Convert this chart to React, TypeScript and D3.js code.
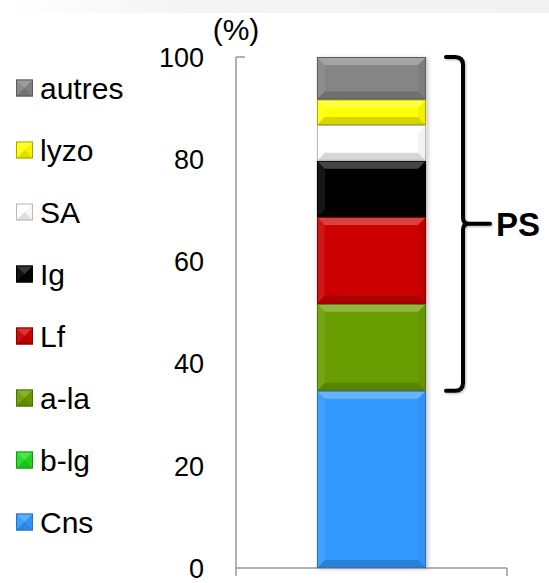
import React from "react";
import * as d3 from "d3";

const categories = ["Cns", "b-lg", "a-la", "Lf", "Ig", "SA", "lyzo", "autres"];
const values = [34.7, 0, 17, 17, 11, 7, 5, 8.3];
const colors = ["#3399ff", "#22dd22", "#6b9e00", "#cc0000", "#050505", "#ffffff", "#ffff00", "#858585"];
const outlines = ["#2a70c0", "#119911", "#4d7200", "#8a0000", "#000000", "#b8b8b8", "#a8a800", "#5a5a5a"];
const yTicks = [0, 20, 40, 60, 80, 100];
const barLabel = ["lait"];
const bracketLabel = "PS";
const bracketRange = [34.7, 100];

const W = 549;
const H = 583;
const FONT = "'Liberation Sans', Arial, sans-serif";

function Bevel({ x, y, w, h, fill, stroke, b, k = 1 }: any) {
  const bb = Math.min(b, h / 2, w / 2);
  const pts = (a: number[][]) => a.map((p) => p.join(",")).join(" ");
  return (
    <g>
      <rect x={x} y={y} width={w} height={h} fill={fill} />
      <polygon points={pts([[x, y], [x + w, y], [x + w - bb, y + bb], [x + bb, y + bb]])} fill="#ffffff" opacity={0.26 * k} />
      <polygon points={pts([[x, y + h], [x + w, y + h], [x + w - bb, y + h - bb], [x + bb, y + h - bb]])} fill="#000000" opacity={0.16 * k} />
      <polygon points={pts([[x, y], [x + bb, y + bb], [x + bb, y + h - bb], [x, y + h]])} fill="#ffffff" opacity={0.07 * k} />
      <polygon points={pts([[x + w, y], [x + w - bb, y + bb], [x + w - bb, y + h - bb], [x + w, y + h]])} fill="#000000" opacity={0.05 * k} />
      <rect x={x + 0.5} y={y + 0.5} width={w - 1} height={h - 1} fill="none" stroke={stroke} strokeWidth={1} />
    </g>
  );
}

export default function App() {
  const y = d3.scaleLinear().domain([0, 100]).range([568, 57]);
  const x = d3.scaleBand().domain(barLabel).range([236, 507]).padding(0.426);
  const bw = x.bandwidth();
  const bx = x(barLabel[0]) as number;

  const stack = d3.stack<any>().keys(categories)([
    Object.fromEntries(categories.map((c, i) => [c, values[i]])),
  ]);

  const legendY = d3.scaleLinear().domain([0, categories.length - 1]).range([522, 88]);

  const bTop = y(bracketRange[1]);
  const bBot = y(bracketRange[0]);
  const bMid = (bTop + bBot) / 2;
  const bx0 = 446;
  const bxv = 463;
  const r = 8;
  const bracketPath = [
    `M${bx0},${bTop}`,
    `L${bxv - r},${bTop}`,
    `Q${bxv},${bTop} ${bxv},${bTop + r}`,
    `L${bxv},${bMid - 6}`,
    `Q${bxv},${bMid} ${bxv + 6},${bMid}`,
    `L${490},${bMid}`,
    `M${bxv + 6},${bMid}`,
    `Q${bxv},${bMid} ${bxv},${bMid + 6}`,
    `L${bxv},${bBot - r}`,
    `Q${bxv},${bBot} ${bxv - r},${bBot}`,
    `L${bx0},${bBot}`,
  ].join(" ");

  return (
    <svg width={W} height={H} style={{ position: "absolute", left: 0, top: 0, background: "#fff" }} fontFamily={FONT}>
      <defs>
        <linearGradient id="topband" x1="0" x2="1" y1="0" y2="0">
          <stop offset="0" stopColor="#ffffff" />
          <stop offset="0.35" stopColor="#f4f4f4" />
          <stop offset="1" stopColor="#f2f2f2" />
        </linearGradient>
        <filter id="shadow" x="-20%" y="-5%" width="140%" height="110%">
          <feDropShadow dx="2" dy="1" stdDeviation="2" floodColor="#000" floodOpacity="0.22" />
        </filter>
        <filter id="bshadow" x="-20%" y="-5%" width="140%" height="110%">
          <feDropShadow dx="1" dy="1" stdDeviation="1.2" floodColor="#000" floodOpacity="0.3" />
        </filter>
      </defs>
      <rect x={0} y={0} width={W} height={13} fill="url(#topband)" />

      {/* axes */}
      <line x1={236} x2={236} y1={y(100)} y2={576} stroke="#999" strokeWidth={1.5} />
      <line x1={236} x2={245} y1={y(100)} y2={y(100)} stroke="#999" strokeWidth={1.5} />
      <line x1={236} x2={507} y1={y(0)} y2={y(0)} stroke="#999" strokeWidth={1.5} />
      <line x1={507} x2={507} y1={y(0)} y2={576} stroke="#999" strokeWidth={1.5} />

      {yTicks.map((t) => (
        <text key={t} x={204} y={y(t)} dy="0.36em" textAnchor="end" fontSize={27} fill="#000">
          {t}
        </text>
      ))}
      <text x={236} y={40} textAnchor="middle" fontSize={30} fill="#000">(%)</text>

      {/* bar */}
      <g filter="url(#shadow)">
        {stack.map((s, i) => {
          const d = s[0];
          const h = y(d[0]) - y(d[1]);
          if (h <= 0) return null;
          return (
            <Bevel key={categories[i]} x={bx} y={y(d[1])} w={bw} h={h} fill={colors[i]} stroke={outlines[i]} b={8} />
          );
        })}
      </g>

      {/* bracket */}
      <path d={bracketPath} fill="none" stroke="#000" strokeWidth={4} strokeLinecap="round" strokeLinejoin="round" filter="url(#bshadow)" />
      <text x={496} y={bMid} dy="0.36em" fontSize={33} fontWeight="bold" fill="#000">{bracketLabel}</text>

      {/* legend */}
      {categories.map((c, i) => {
        const ly = legendY(i);
        return (
          <g key={c}>
            <Bevel x={16} y={ly - 8.5} w={17} h={17} fill={colors[i]} stroke={outlines[i]} b={8.5} k={0.8} />
            <text x={40} y={ly} dy="0.36em" fontSize={30} fill="#000">{c}</text>
          </g>
        );
      })}
    </svg>
  );
}
